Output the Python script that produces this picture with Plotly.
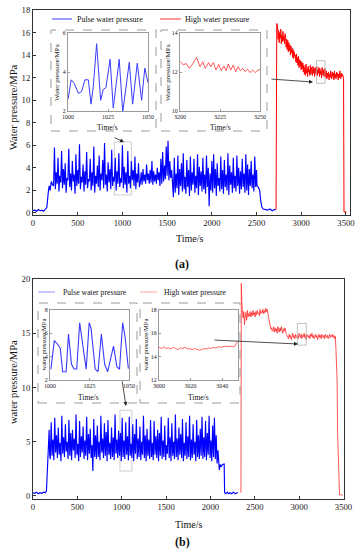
import plotly.graph_objects as go

W, H = 357, 550
FONT = "Liberation Serif, Times New Roman, serif"

# ---------------- Panel (a) data ----------------
a_pulse_pre_t = [0, 20, 40, 60, 80, 100, 120, 140, 155, 168, 180, 192, 205, 218]
a_pulse_pre_v = [0.2, 0.25, 0.15, 0.3, 0.2, 0.25, 0.15, 0.3, 0.5, 1.6, 2.4, 2.0, 2.8, 2.5]
a_pulse_t0 = 230
a_pulse_dt = 10
a_pulse_v = [
    2.4, 5.8, 2.1, 3.6, 2.6, 4.9, 1.9, 3.3, 2.7, 5.5, 2.2, 3.9, 2.5, 4.4, 1.8, 3.1, 2.9, 5.7, 2.3, 3.5,
    2.0, 4.6, 2.8, 3.4, 1.7, 5.2, 2.4, 3.8, 2.6, 6.1, 2.1, 3.2, 2.7, 4.3, 1.9, 3.7, 2.5, 5.4, 2.2, 3.0,
    2.8, 4.8, 2.0, 3.6, 2.4, 5.9, 1.8, 3.3, 2.6, 4.2, 2.3, 5.1, 2.0, 3.5, 2.9, 4.7, 2.2, 6.2, 2.5, 3.4,
    1.9, 4.5, 2.7, 3.9, 2.1, 5.6, 2.4, 3.2, 2.8, 4.9, 2.0, 3.7, 2.6, 5.3, 2.3, 3.1, 2.7, 6.0, 2.2, 4.1,
    2.5, 3.6, 1.8, 5.5, 2.6, 3.3, 2.2, 4.6, 2.9, 3.8, 2.4, 5.0, 2.1, 3.5, 2.7, 4.4, 2.3,
    2.7, 3.6, 2.5, 3.9, 2.8, 3.4, 2.6, 4.3, 2.9, 3.5, 2.6, 3.8, 2.7, 4.6, 2.5, 3.7, 2.8, 3.4, 2.6, 4.0, 2.9, 3.6,
    2.4, 4.8, 2.6, 5.4, 2.8, 4.2, 3.0, 5.9, 3.3, 6.4, 2.9, 4.6, 3.1, 3.8, 2.7,
    1.4, 4.9, 1.8, 3.5, 2.2, 5.1, 1.6, 3.9, 2.4, 4.4, 1.9, 5.3, 2.1, 3.2, 1.7, 4.7, 2.3, 3.8, 1.5, 5.0,
    2.0, 3.6, 2.5, 4.8, 1.8, 3.3, 2.2, 5.2, 1.6, 4.1, 2.4, 3.7, 1.9, 4.9, 2.1, 3.4, 1.7, 5.1, 2.3, 4.0,
    0.6, 3.5, 2.0, 4.6, 1.8, 5.2, 2.2, 3.9, 1.5, 4.4, 2.4, 3.1, 1.9, 5.0, 2.1, 3.8, 1.7, 4.7, 2.3, 3.4,
    2.0, 5.3, 1.6, 4.2, 2.5, 3.6, 1.8, 4.9, 2.2, 3.3, 1.9, 5.1, 2.4, 4.0, 1.7, 3.7, 2.1, 4.8, 2.3, 3.5,
    1.8, 5.2, 2.0, 4.3, 1.6, 3.9, 2.4, 4.6, 2.2, 3.4, 1.9, 5.0, 2.3, 3.8,
]
a_pulse_post_t = [2505, 2520, 2535, 2548, 2560, 2575, 2600, 2625, 2650, 2675, 2700, 2715]
a_pulse_post_v = [2.4, 2.3, 2.0, 1.0, 0.5, 0.35, 0.3, 0.25, 0.35, 0.2, 0.3, 0.3]

a_high_pre_t = [2718, 2726]
a_high_pre_v = [0.3, 16.8]
a_high_t0 = 2735
a_high_dt = 6
a_high_v = [
    16.6, 15.4, 16.2, 15.1, 16.0, 15.5, 16.3, 15.0, 15.8, 15.2, 16.1, 15.3, 15.7, 15.0, 15.9,
    15.6, 14.7, 15.4, 14.5, 15.3, 14.3, 15.1, 14.4, 14.9, 14.0, 14.8, 14.2, 14.6, 13.8, 14.5, 13.7,
    14.3, 13.9, 14.0, 13.4, 14.1, 13.3, 13.8, 13.1, 13.9, 12.9, 13.6, 13.0, 13.5, 12.7, 13.4, 12.8, 13.3,
    12.5, 13.1, 12.3, 12.9, 12.2, 13.2, 12.4, 12.8, 12.1, 13.0, 12.5, 12.7, 12.2, 13.1, 12.3, 12.9,
    12.6, 12.2, 13.0, 12.4, 12.8, 12.1, 12.9, 12.5, 12.3, 13.0, 12.2, 12.7, 12.4, 12.9, 12.1, 12.8,
    12.3, 12.6, 12.0, 12.9, 12.4, 12.2, 12.7, 12.1, 12.8, 12.3,
    12.0, 12.6, 11.9, 12.4, 12.1, 12.5, 11.8, 12.3, 12.0, 12.6, 12.2, 11.9, 12.5, 12.1, 12.4, 11.8,
    12.6, 12.0, 12.3, 11.9, 12.5, 12.1, 12.4, 11.8, 12.3, 12.0, 12.6, 12.2, 11.9, 12.4, 12.1, 12.3, 12.0,
]
a_high_post_t = [3473, 3478, 3505]
a_high_post_v = [12.0, 0.1, 0.1]

a_in1_t = [1000, 1002, 1004, 1006.5, 1008.5, 1010.6, 1012.7, 1014.4, 1015.8, 1017.9, 1020.4, 1022,
           1023.7, 1026.3, 1028.3, 1032, 1034.2, 1038.3, 1040.4, 1043.3, 1046, 1048, 1050]
a_in1_v = [2.6, 3.6, 3.4, 2.9, 3.0, 3.6, 3.6, 2.35, 3.25, 5.45, 2.55, 3.1,
           3.2, 4.65, 2.15, 4.65, 1.95, 4.5, 2.35, 4.45, 2.55, 4.2, 3.45]

a_in2_t = [3200.4, 3202.1, 3203.8, 3205.8, 3207.9, 3210.4, 3212.5, 3214.2, 3215.8, 3217.9, 3219.2,
           3220.8, 3222.5, 3224.2, 3225.8, 3227.5, 3228.8, 3230.2, 3231.7, 3233.3, 3234.8, 3236.3,
           3237.7, 3239.2, 3240.6, 3242.1, 3243.8, 3245.4, 3247.1, 3248.3, 3250]
a_in2_v = [12.53, 12.36, 12.44, 12.19, 12.41, 12.75, 12.27, 12.53, 12.19, 12.48, 12.27,
           12.48, 12.10, 12.39, 12.07, 12.31, 12.07, 12.41, 12.10, 12.36, 12.02, 12.27,
           12.07, 12.19, 12.02, 12.14, 11.97, 12.10, 11.97, 12.07, 12.14]

# ---------------- Panel (b) data ----------------
b_pulse_pre_t = [0, 20, 40, 60, 80, 100, 120, 140, 152, 162, 172, 182, 188]
b_pulse_pre_v = [0.3, 0.25, 0.35, 0.2, 0.3, 0.25, 0.35, 0.3, 0.5, 2.2, 3.6, 6.1, 3.8]
b_pulse_t0 = 195
b_pulse_dt = 10
b_pulse_v = [
    3.4, 6.8, 3.7, 5.2, 3.3, 7.2, 4.0, 5.6, 3.5, 6.3, 3.8, 4.9, 3.2, 7.4, 3.9, 5.4, 3.6, 6.6, 4.1, 5.0,
    3.4, 7.0, 3.7, 5.8, 3.3, 6.1, 4.2, 5.3, 3.5, 7.5, 3.8, 4.8, 3.2, 6.9, 3.6, 5.5, 4.0, 6.4, 3.4, 5.1,
    3.7, 7.3, 3.3, 5.7, 3.9, 6.2, 3.5, 4.7, 2.3, 7.1, 3.6, 5.6, 3.4, 6.5, 3.6, 5.0, 3.3, 7.4, 4.0, 5.3,
    3.5, 6.7, 3.7, 5.9, 3.2, 7.0, 3.8, 4.9, 3.4, 6.3, 3.6, 5.4, 3.3, 7.5, 3.9, 5.2, 3.5, 6.0, 3.7, 5.8,
    3.2, 7.2, 3.6, 5.1, 3.4, 6.8, 3.8, 5.5, 3.3, 7.3, 3.7, 4.8, 3.5, 6.6, 3.2, 5.7, 3.9, 7.1, 3.4, 5.3,
    3.6, 6.4, 3.3, 5.0, 3.8, 7.4, 3.5, 5.6, 3.2, 6.2, 3.7, 5.2, 3.4, 7.0, 3.6, 4.9, 3.3, 6.9, 3.8, 5.5,
    3.5, 6.1, 3.2, 5.8, 3.7, 7.3, 3.4, 5.1, 3.6, 6.5, 3.3, 4.7, 3.9, 7.2, 3.5, 5.4, 3.2, 6.7, 3.7, 5.0,
    3.4, 7.5, 3.6, 5.3, 3.3, 6.3, 3.8, 5.7, 3.5, 7.1, 3.2, 4.9, 3.7, 6.8, 3.4, 5.5, 3.6, 7.4, 3.3, 5.2,
    3.5, 6.6, 3.8, 5.0, 3.2, 7.0, 3.6, 5.6, 3.4, 6.2, 3.7, 7.3, 3.4, 5.4, 3.6, 6.9, 3.3, 5.8, 3.8, 7.4,
    3.5, 5.1, 3.2, 6.5, 3.6, 7.2, 3.4, 5.6, 3.0, 4.2,
]
b_pulse_post_t = [2090, 2100, 2110, 2120, 2135, 2155, 2160, 2175, 2190, 2205, 2220, 2240, 2260, 2280, 2300, 2312]
b_pulse_post_v = [3.0, 2.4, 2.9, 2.7, 2.9, 2.95, 0.3, 0.2, 0.35, 0.2, 0.3, 0.2, 0.35, 0.2, 0.3, 0.3]

b_high_pre_t = [2344, 2348, 2354]
b_high_pre_v = [0.3, 19.6, 17.9]
b_high_t0 = 2360
b_high_dt = 8
b_high_v = [
    17.2, 16.4, 17.0, 15.8, 16.6, 16.9, 16.2, 17.1, 16.5, 16.8,
    16.6, 17.0, 16.5, 16.9, 16.6, 17.1, 16.7, 16.9, 16.5, 17.0, 16.7, 17.1, 16.8, 16.9, 16.6, 17.2,
    16.8, 17.0, 16.9, 17.2, 16.8, 17.1, 16.9, 17.3, 17.0, 17.2,
    16.8, 16.4, 16.0, 15.7, 15.4, 15.5, 15.2,
    15.3, 15.6, 15.1, 15.5, 15.2, 15.4, 15.0, 15.6, 15.3, 15.1, 15.5, 15.2, 15.6, 15.3, 15.0, 15.4,
    15.2, 15.5, 15.1, 14.9, 14.8,
    14.7, 14.5, 14.9, 14.6, 14.8, 14.4, 14.7, 15.0, 14.6, 14.8, 14.5, 14.9, 14.7, 14.6, 14.8, 14.5,
    15.0, 14.7, 14.6, 14.9, 14.5, 14.8, 14.7, 15.0, 14.6, 14.8, 14.4, 14.9, 14.7, 14.6, 14.8, 14.5,
    14.9, 14.7, 15.0, 14.6, 14.8, 14.5, 14.7, 14.9, 14.6, 14.8, 14.4, 14.7, 14.9, 14.6, 14.8, 14.5,
    14.9, 14.7, 14.6, 14.8, 14.5, 14.9, 14.7, 14.6, 14.8, 14.5, 14.7, 14.9, 14.6, 14.8, 14.7, 14.9,
    14.6, 14.8, 14.5, 14.7,
]
b_high_post_t = [3416, 3428, 3433, 3455, 3490]
b_high_post_v = [13.3, 10.6, 6.0, 0.1, 0.1]

b_in1_t = [1000.6, 1002.7, 1005.2, 1006.5, 1008, 1010.2, 1011.7, 1013.6, 1015.2, 1016.9, 1018.8,
           1022.9, 1024.8, 1026, 1028.6, 1030.4, 1032.5, 1034.6, 1036.5, 1040.2, 1042.3, 1044,
           1046, 1047.5, 1049.6]
b_in1_v = [2.92, 5.37, 5.0, 4.71, 2.71, 2.71, 5.94, 3.35, 2.94, 2.94, 6.91,
           2.92, 6.91, 6.43, 2.94, 2.71, 5.94, 3.35, 2.71, 4.91, 3.14, 2.92,
           6.91, 5.71, 2.97]

b_in2_t0 = 3000
b_in2_dt = 1.5
b_in2_v = [14.8, 14.7, 14.85, 14.7, 14.75, 14.65, 14.8, 14.7, 14.6, 14.75, 14.7, 14.8, 14.65, 14.7,
           14.6, 14.7, 14.65, 14.55, 14.6, 14.7, 14.65, 14.75, 14.7, 14.8, 14.75, 14.85, 14.8, 14.85,
           14.9, 14.85, 14.9, 14.85, 14.9, 15.3]

x_ticks = [0, 500, 1000, 1500, 2000, 2500, 3000, 3500]
a_y_ticks = [0, 2, 4, 6, 8, 10, 12, 14, 16, 18]
b_y_ticks = [0, 5, 10, 15, 20]


def series(pre_t, pre_v, t0, dt, vals, post_t, post_v):
    t = list(pre_t) + [t0 + dt * i for i in range(len(vals))] + list(post_t)
    v = list(pre_v) + list(vals) + list(post_v)
    return t, v


def fx(p):
    return p / W


def fy(p):
    return 1 - p / H


def domx(a, b):
    return [a / W, b / W]


def domy(a, b):
    return [1 - b / H, 1 - a / H]


fig = go.Figure()

t, v = series(a_pulse_pre_t, a_pulse_pre_v, a_pulse_t0, a_pulse_dt, a_pulse_v, a_pulse_post_t, a_pulse_post_v)
fig.add_trace(go.Scatter(x=t, y=v, mode="lines", line=dict(color="#0000ff", width=1.15), xaxis="x", yaxis="y",
                         name="Pulse water pressure", showlegend=False))
t, v = series(a_high_pre_t, a_high_pre_v, a_high_t0, a_high_dt, a_high_v, a_high_post_t, a_high_post_v)
fig.add_trace(go.Scatter(x=t, y=v, mode="lines", line=dict(color="#ff0000", width=1), xaxis="x", yaxis="y",
                         name="High water pressure", showlegend=False))
fig.add_trace(go.Scatter(x=a_in1_t, y=a_in1_v, mode="lines", line=dict(color="#3a3aff", width=1),
                         xaxis="x2", yaxis="y2", showlegend=False))
fig.add_trace(go.Scatter(x=a_in2_t, y=a_in2_v, mode="lines", line=dict(color="#ff3030", width=0.8),
                         xaxis="x3", yaxis="y3", showlegend=False))

t, v = series(b_pulse_pre_t, b_pulse_pre_v, b_pulse_t0, b_pulse_dt, b_pulse_v, b_pulse_post_t, b_pulse_post_v)
fig.add_trace(go.Scatter(x=t, y=v, mode="lines", line=dict(color="#0000ff", width=1.15), xaxis="x4", yaxis="y4",
                         showlegend=False))
t, v = series(b_high_pre_t, b_high_pre_v, b_high_t0, b_high_dt, b_high_v, b_high_post_t, b_high_post_v)
fig.add_trace(go.Scatter(x=t, y=v, mode="lines", line=dict(color="#ff2a2a", width=0.8), xaxis="x4", yaxis="y4",
                         showlegend=False))
fig.add_trace(go.Scatter(x=b_in1_t, y=b_in1_v, mode="lines", line=dict(color="#3a3aff", width=1.1),
                         xaxis="x5", yaxis="y5", showlegend=False))
b_in2_t = [b_in2_t0 + b_in2_dt * i for i in range(len(b_in2_v))]
fig.add_trace(go.Scatter(x=b_in2_t, y=b_in2_v, mode="lines", line=dict(color="#ff4040", width=0.8),
                         xaxis="x6", yaxis="y6", showlegend=False))


def main_ax(dom, rng, tickvals, anchor):
    return dict(domain=dom, range=rng, tickvals=tickvals, anchor=anchor, showline=True, linecolor="#333",
                linewidth=1, mirror=True, ticks="inside", ticklen=3, tickcolor="#333", showgrid=False,
                zeroline=False, tickfont=dict(family=FONT, size=8.7, color="#222"), automargin=False)


def inset_ax(dom, rng, tickvals, anchor):
    return dict(domain=dom, range=rng, tickvals=tickvals, anchor=anchor, showline=True, linecolor="#9a9a9a",
                linewidth=1, mirror=True, ticks="inside", ticklen=2, tickcolor="#9a9a9a", showgrid=False,
                zeroline=False, tickfont=dict(family=FONT, size=6, color="#222"), automargin=False)


fig.update_layout(
    width=W, height=H, autosize=False, template="none",
    margin=dict(l=0, r=0, t=0, b=0, pad=0),
    paper_bgcolor="white", plot_bgcolor="white", showlegend=False,
    xaxis=main_ax(domx(33, 350), [0, 3545], x_ticks, "y"),
    yaxis=main_ax(domy(10, 215), [-0.18, 18], a_y_ticks, "x"),
    xaxis2=inset_ax(domx(68, 148), [1000, 1050], [1000, 1025, 1050], "y2"),
    yaxis2=inset_ax(domy(33, 111), [2, 6], [2, 4, 6], "x2"),
    xaxis3=inset_ax(domx(180, 260), [3200, 3250], [3200, 3225, 3250], "y3"),
    yaxis3=inset_ax(domy(33, 111), [10, 14], [10, 12, 14], "x3"),
    xaxis4=main_ax(domx(33, 343.5), [0, 3500], x_ticks, "y4"),
    yaxis4=main_ax(domy(279, 499), [-0.28, 20], b_y_ticks, "x4"),
    xaxis5=inset_ax(domx(50, 129), [1000, 1050], [1000, 1025, 1050], "y5"),
    yaxis5=inset_ax(domy(310, 380), [2, 8], [2, 4, 6, 8], "x5"),
    xaxis6=inset_ax(domx(159, 238), [3000, 3050], [3000, 3020, 3040], "y6"),
    yaxis6=inset_ax(domy(310, 380), [12, 18], [12, 14, 16, 18], "x6"),
)

shapes = []
# dashed inset frames
for x0, y0, x1, y1 in [(51, 30, 156, 131), (161, 30, 267, 131), (38, 303, 137, 403), (140, 303, 240, 403)]:
    shapes.append(dict(type="rect", xref="paper", yref="paper", x0=fx(x0), x1=fx(x1), y0=fy(y1), y1=fy(y0),
                       line=dict(color="#9a9a9a", width=1, dash="dash"), fillcolor="rgba(0,0,0,0)"))
# legend samples
for x0, x1, y, c, w in [(52, 72, 19, "#3a3aff", 1), (160, 181, 19, "#ff3030", 1),
                        (38, 55, 292, "#7a7aff", 0.8), (140, 157, 292, "#ff8a8a", 0.8)]:
    shapes.append(dict(type="line", xref="paper", yref="paper", x0=fx(x0), x1=fx(x1), y0=fy(y), y1=fy(y),
                       line=dict(color=c, width=w)))
# zoom-region markers
shapes.append(dict(type="rect", xref="x", yref="y", x0=910, x1=1100, y0=1.6, y1=6.3,
                   line=dict(color="#c0c0c0", width=0.8), layer="below"))
shapes.append(dict(type="rect", xref="x", yref="y", x0=3170, x1=3265, y0=11.5, y1=13.5,
                   line=dict(color="#b0b0b0", width=0.8)))
shapes.append(dict(type="rect", xref="x4", yref="y4", x0=980, x1=1115, y0=2.3, y1=7.9,
                   line=dict(color="#c0c0c0", width=0.8), layer="below"))
shapes.append(dict(type="rect", xref="x4", yref="y4", x0=2980, x1=3080, y0=13.9, y1=15.9,
                   line=dict(color="#b0b0b0", width=0.8)))
fig.update_layout(shapes=shapes)

ann = []


def text(x, y, s, size, angle=0, anchor="center"):
    ann.append(dict(x=fx(x), y=fy(y), xref="paper", yref="paper", text=s, showarrow=False, textangle=angle,
                    xanchor=anchor, yanchor="middle", font=dict(family=FONT, size=size, color="#111")))


def arrow(tx, ty, hx, hy):
    ann.append(dict(x=fx(hx), y=fy(hy), xref="paper", yref="paper", ax=tx - hx, ay=ty - hy, text="",
                    showarrow=True, arrowhead=2, arrowsize=1, arrowwidth=0.8, arrowcolor="#222", standoff=0))


# panel (a)
text(190, 238, "Time/s", 10)
text(13, 107, "Water pressure/MPa", 10.5, -90)
text(182, 264, "<b>(a)</b>", 12)
text(75, 19, "Pulse water pressure", 8, anchor="left")
text(183, 19, "High water pressure", 8, anchor="left")
text(108, 127, "Time/s", 7.5)
text(220, 127, "Time/s", 7.5)
text(57, 72, "Water pressure/MPa", 7, -90)
text(168, 72, "Water pressure/MPa", 7, -90)
arrow(113, 137, 124, 142)
arrow(270, 79, 313, 82)

# panel (b)
text(189, 524, "Time/s", 10)
text(13, 382, "water pressure/MPa", 10.5, -90)
text(182, 542, "<b>(b)</b>", 12)
text(61, 292, "Pulse water pressure", 7.7, anchor="left")
text(162, 292, "High water pressure", 7.7, anchor="left")
text(88, 397, "Time/s", 7.5)
text(198, 397, "Time/s", 7.5)
text(42.5, 345, "water pressure/MPa", 6.5, -90)
text(144.5, 345, "water pressure/MPa", 6.5, -90)
arrow(122, 380, 126, 406)
arrow(213, 340, 298, 344)

fig.update_layout(annotations=ann)

fig.write_html("out.html", config={"displayModeBar": False},
               post_script="document.body.style.margin='0px';document.body.style.overflow='hidden';")
